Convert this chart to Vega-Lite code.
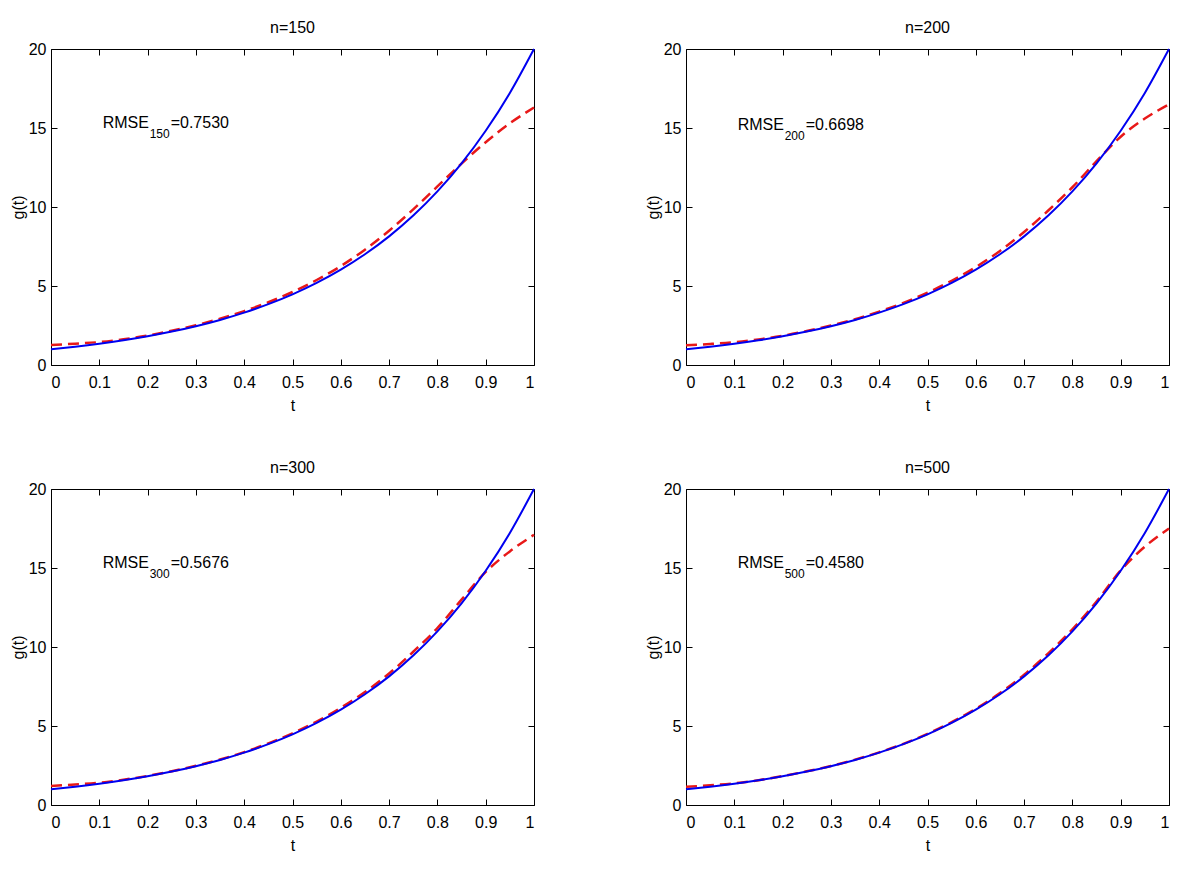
{
  "$schema": "https://vega.github.io/schema/vega-lite/v6.json",
  "background": "white",
  "autosize": {"type": "pad"},
  "padding": {"left": 9, "top": 19, "right": 0, "bottom": 0},
  "config": {
    "font": "Liberation Sans",
    "view": {"stroke": "black", "strokeWidth": 1},
    "axis": {
      "labelFont": "Liberation Sans", "titleFont": "Liberation Sans",
      "labelFontSize": 16, "titleFontSize": 16, "titleFontWeight": "normal",
      "labelColor": "black", "titleColor": "black", "tickColor": "black",
      "tickSize": -6, "tickWidth": 1, "domain": false, "grid": false
    },
    "axisBottom": {"labelPadding": 15, "titlePadding": 7},
    "axisLeft": {"labelPadding": 11, "titlePadding": 2},
    "title": {"font": "Liberation Sans", "fontSize": 16, "fontWeight": "normal", "color": "black", "baseline": "alphabetic", "offset": 5}
  },
  "datasets": {
    "truth": [
      {"t": 0, "g": 1}, {"t": 0.05, "g": 1.1616}, {"t": 0.1, "g": 1.3493}, {"t": 0.15, "g": 1.5673},
      {"t": 0.2, "g": 1.8206}, {"t": 0.25, "g": 2.1147}, {"t": 0.3, "g": 2.4564}, {"t": 0.35, "g": 2.8534},
      {"t": 0.4, "g": 3.3144}, {"t": 0.45, "g": 3.85}, {"t": 0.5, "g": 4.4721}, {"t": 0.55, "g": 5.1948},
      {"t": 0.6, "g": 6.0342}, {"t": 0.65, "g": 7.0092}, {"t": 0.7, "g": 8.1418}, {"t": 0.75, "g": 9.4574},
      {"t": 0.8, "g": 10.9856}, {"t": 0.85, "g": 12.7607}, {"t": 0.9, "g": 14.8227}, {"t": 0.95, "g": 17.2177},
      {"t": 1, "g": 20}
    ],
    "est": [
      {"n": 150, "t": 0, "g": 1.26}, {"n": 150, "t": 0.05, "g": 1.35}, {"n": 150, "t": 0.1, "g": 1.45}, {"n": 150, "t": 0.15, "g": 1.63},
      {"n": 150, "t": 0.2, "g": 1.86}, {"n": 150, "t": 0.25, "g": 2.17}, {"n": 150, "t": 0.3, "g": 2.52}, {"n": 150, "t": 0.35, "g": 2.93},
      {"n": 150, "t": 0.4, "g": 3.41}, {"n": 150, "t": 0.45, "g": 3.97}, {"n": 150, "t": 0.5, "g": 4.62}, {"n": 150, "t": 0.55, "g": 5.38},
      {"n": 150, "t": 0.6, "g": 6.26}, {"n": 150, "t": 0.65, "g": 7.3}, {"n": 150, "t": 0.7, "g": 8.5}, {"n": 150, "t": 0.75, "g": 9.85},
      {"n": 150, "t": 0.8, "g": 11.3}, {"n": 150, "t": 0.85, "g": 12.75}, {"n": 150, "t": 0.9, "g": 14.1}, {"n": 150, "t": 0.95, "g": 15.3},
      {"n": 150, "t": 1, "g": 16.3},
      {"n": 200, "t": 0, "g": 1.25}, {"n": 200, "t": 0.05, "g": 1.33}, {"n": 200, "t": 0.1, "g": 1.44}, {"n": 200, "t": 0.15, "g": 1.62},
      {"n": 200, "t": 0.2, "g": 1.85}, {"n": 200, "t": 0.25, "g": 2.15}, {"n": 200, "t": 0.3, "g": 2.5}, {"n": 200, "t": 0.35, "g": 2.9},
      {"n": 200, "t": 0.4, "g": 3.38}, {"n": 200, "t": 0.45, "g": 3.93}, {"n": 200, "t": 0.5, "g": 4.58}, {"n": 200, "t": 0.55, "g": 5.33},
      {"n": 200, "t": 0.6, "g": 6.2}, {"n": 200, "t": 0.65, "g": 7.22}, {"n": 200, "t": 0.7, "g": 8.42}, {"n": 200, "t": 0.75, "g": 9.78},
      {"n": 200, "t": 0.8, "g": 11.25}, {"n": 200, "t": 0.85, "g": 12.9}, {"n": 200, "t": 0.9, "g": 14.45}, {"n": 200, "t": 0.95, "g": 15.6},
      {"n": 200, "t": 1, "g": 16.5},
      {"n": 300, "t": 0, "g": 1.2}, {"n": 300, "t": 0.05, "g": 1.3}, {"n": 300, "t": 0.1, "g": 1.41}, {"n": 300, "t": 0.15, "g": 1.6},
      {"n": 300, "t": 0.2, "g": 1.84}, {"n": 300, "t": 0.25, "g": 2.14}, {"n": 300, "t": 0.3, "g": 2.48}, {"n": 300, "t": 0.35, "g": 2.88},
      {"n": 300, "t": 0.4, "g": 3.35}, {"n": 300, "t": 0.45, "g": 3.9}, {"n": 300, "t": 0.5, "g": 4.54}, {"n": 300, "t": 0.55, "g": 5.28},
      {"n": 300, "t": 0.6, "g": 6.15}, {"n": 300, "t": 0.65, "g": 7.15}, {"n": 300, "t": 0.7, "g": 8.32}, {"n": 300, "t": 0.75, "g": 9.7},
      {"n": 300, "t": 0.8, "g": 11.2}, {"n": 300, "t": 0.85, "g": 13.0}, {"n": 300, "t": 0.9, "g": 14.75}, {"n": 300, "t": 0.95, "g": 16.05},
      {"n": 300, "t": 1, "g": 17.1},
      {"n": 500, "t": 0, "g": 1.15}, {"n": 500, "t": 0.05, "g": 1.25}, {"n": 500, "t": 0.1, "g": 1.37}, {"n": 500, "t": 0.15, "g": 1.57},
      {"n": 500, "t": 0.2, "g": 1.83}, {"n": 500, "t": 0.25, "g": 2.13}, {"n": 500, "t": 0.3, "g": 2.47}, {"n": 500, "t": 0.35, "g": 2.87},
      {"n": 500, "t": 0.4, "g": 3.33}, {"n": 500, "t": 0.45, "g": 3.87}, {"n": 500, "t": 0.5, "g": 4.5}, {"n": 500, "t": 0.55, "g": 5.24},
      {"n": 500, "t": 0.6, "g": 6.09}, {"n": 500, "t": 0.65, "g": 7.08}, {"n": 500, "t": 0.7, "g": 8.24}, {"n": 500, "t": 0.75, "g": 9.6},
      {"n": 500, "t": 0.8, "g": 11.12}, {"n": 500, "t": 0.85, "g": 12.88}, {"n": 500, "t": 0.9, "g": 14.85}, {"n": 500, "t": 0.95, "g": 16.35},
      {"n": 500, "t": 1, "g": 17.5}
    ],
    "ann": [
      {"n": 150, "t": 0.107, "g": 15.0, "label": "RMSE", "sub": "150", "val": "=0.7530"},
      {"n": 200, "t": 0.107, "g": 14.9, "label": "RMSE", "sub": "200", "val": "=0.6698"},
      {"n": 300, "t": 0.107, "g": 15.0, "label": "RMSE", "sub": "300", "val": "=0.5676"},
      {"n": 500, "t": 0.107, "g": 15.0, "label": "RMSE", "sub": "500", "val": "=0.4580"}
    ]
  },
  "columns": 2,
  "bounds": "flush",
  "spacing": {"row": 124, "column": 152},
  "concat": [
    {
      "width": 483, "height": 316,
      "title": "n=150",
      "layer": [
        {"data": {"name": "est"}, "transform": [{"filter": "datum.n == 150"}],
         "mark": {"type": "line", "color": "#e81818", "strokeWidth": 2.5, "strokeDash": [11, 6], "interpolate": "monotone"},
         "encoding": {
           "x": {"field": "t", "type": "quantitative", "scale": {"domain": [0, 1], "nice": false}, "axis": {"orient": "bottom", "title": "t", "values": [0, 0.1, 0.2, 0.3, 0.4, 0.5, 0.6, 0.7, 0.8, 0.9, 1], "format": "~g"}},
           "y": {"field": "g", "type": "quantitative", "scale": {"domain": [0, 20], "nice": false}, "axis": {"orient": "left", "title": "g(t)", "values": [0, 5, 10, 15, 20]}}
         }},
        {"data": {"name": "truth"},
         "mark": {"type": "line", "color": "#0000f0", "strokeWidth": 2, "interpolate": "monotone"},
         "encoding": {
           "x": {"field": "t", "type": "quantitative", "axis": {"orient": "top", "title": null, "labels": false, "values": [0, 0.1, 0.2, 0.3, 0.4, 0.5, 0.6, 0.7, 0.8, 0.9, 1]}},
           "y": {"field": "g", "type": "quantitative", "axis": {"orient": "right", "title": null, "labels": false, "values": [0, 5, 10, 15, 20]}}
         }},
        {"data": {"name": "ann"}, "transform": [{"filter": "datum.n == 150"}],
         "mark": {"type": "text", "align": "left", "baseline": "alphabetic", "fontSize": 16, "color": "black"},
         "encoding": {"x": {"field": "t", "type": "quantitative", "axis": null}, "y": {"field": "g", "type": "quantitative", "axis": null}, "text": {"field": "label"}}},
        {"data": {"name": "ann"}, "transform": [{"filter": "datum.n == 150"}],
         "mark": {"type": "text", "align": "left", "baseline": "alphabetic", "fontSize": 12, "dx": 47, "dy": 10, "color": "black"},
         "encoding": {"x": {"field": "t", "type": "quantitative", "axis": null}, "y": {"field": "g", "type": "quantitative", "axis": null}, "text": {"field": "sub"}}},
        {"data": {"name": "ann"}, "transform": [{"filter": "datum.n == 150"}],
         "mark": {"type": "text", "align": "left", "baseline": "alphabetic", "fontSize": 16, "dx": 68, "color": "black"},
         "encoding": {"x": {"field": "t", "type": "quantitative", "axis": null}, "y": {"field": "g", "type": "quantitative", "axis": null}, "text": {"field": "val"}}}
      ],
      "resolve": {"axis": {"x": "independent", "y": "independent"}}
    },
    {
      "width": 483, "height": 316,
      "title": "n=200",
      "layer": [
        {"data": {"name": "est"}, "transform": [{"filter": "datum.n == 200"}],
         "mark": {"type": "line", "color": "#e81818", "strokeWidth": 2.5, "strokeDash": [11, 6], "interpolate": "monotone"},
         "encoding": {
           "x": {"field": "t", "type": "quantitative", "scale": {"domain": [0, 1], "nice": false}, "axis": {"orient": "bottom", "title": "t", "values": [0, 0.1, 0.2, 0.3, 0.4, 0.5, 0.6, 0.7, 0.8, 0.9, 1], "format": "~g"}},
           "y": {"field": "g", "type": "quantitative", "scale": {"domain": [0, 20], "nice": false}, "axis": {"orient": "left", "title": "g(t)", "values": [0, 5, 10, 15, 20]}}
         }},
        {"data": {"name": "truth"},
         "mark": {"type": "line", "color": "#0000f0", "strokeWidth": 2, "interpolate": "monotone"},
         "encoding": {
           "x": {"field": "t", "type": "quantitative", "axis": {"orient": "top", "title": null, "labels": false, "values": [0, 0.1, 0.2, 0.3, 0.4, 0.5, 0.6, 0.7, 0.8, 0.9, 1]}},
           "y": {"field": "g", "type": "quantitative", "axis": {"orient": "right", "title": null, "labels": false, "values": [0, 5, 10, 15, 20]}}
         }},
        {"data": {"name": "ann"}, "transform": [{"filter": "datum.n == 200"}],
         "mark": {"type": "text", "align": "left", "baseline": "alphabetic", "fontSize": 16, "color": "black"},
         "encoding": {"x": {"field": "t", "type": "quantitative", "axis": null}, "y": {"field": "g", "type": "quantitative", "axis": null}, "text": {"field": "label"}}},
        {"data": {"name": "ann"}, "transform": [{"filter": "datum.n == 200"}],
         "mark": {"type": "text", "align": "left", "baseline": "alphabetic", "fontSize": 12, "dx": 47, "dy": 10, "color": "black"},
         "encoding": {"x": {"field": "t", "type": "quantitative", "axis": null}, "y": {"field": "g", "type": "quantitative", "axis": null}, "text": {"field": "sub"}}},
        {"data": {"name": "ann"}, "transform": [{"filter": "datum.n == 200"}],
         "mark": {"type": "text", "align": "left", "baseline": "alphabetic", "fontSize": 16, "dx": 68, "color": "black"},
         "encoding": {"x": {"field": "t", "type": "quantitative", "axis": null}, "y": {"field": "g", "type": "quantitative", "axis": null}, "text": {"field": "val"}}}
      ],
      "resolve": {"axis": {"x": "independent", "y": "independent"}}
    },
    {
      "width": 483, "height": 316,
      "title": "n=300",
      "layer": [
        {"data": {"name": "est"}, "transform": [{"filter": "datum.n == 300"}],
         "mark": {"type": "line", "color": "#e81818", "strokeWidth": 2.5, "strokeDash": [11, 6], "interpolate": "monotone"},
         "encoding": {
           "x": {"field": "t", "type": "quantitative", "scale": {"domain": [0, 1], "nice": false}, "axis": {"orient": "bottom", "title": "t", "values": [0, 0.1, 0.2, 0.3, 0.4, 0.5, 0.6, 0.7, 0.8, 0.9, 1], "format": "~g"}},
           "y": {"field": "g", "type": "quantitative", "scale": {"domain": [0, 20], "nice": false}, "axis": {"orient": "left", "title": "g(t)", "values": [0, 5, 10, 15, 20]}}
         }},
        {"data": {"name": "truth"},
         "mark": {"type": "line", "color": "#0000f0", "strokeWidth": 2, "interpolate": "monotone"},
         "encoding": {
           "x": {"field": "t", "type": "quantitative", "axis": {"orient": "top", "title": null, "labels": false, "values": [0, 0.1, 0.2, 0.3, 0.4, 0.5, 0.6, 0.7, 0.8, 0.9, 1]}},
           "y": {"field": "g", "type": "quantitative", "axis": {"orient": "right", "title": null, "labels": false, "values": [0, 5, 10, 15, 20]}}
         }},
        {"data": {"name": "ann"}, "transform": [{"filter": "datum.n == 300"}],
         "mark": {"type": "text", "align": "left", "baseline": "alphabetic", "fontSize": 16, "color": "black"},
         "encoding": {"x": {"field": "t", "type": "quantitative", "axis": null}, "y": {"field": "g", "type": "quantitative", "axis": null}, "text": {"field": "label"}}},
        {"data": {"name": "ann"}, "transform": [{"filter": "datum.n == 300"}],
         "mark": {"type": "text", "align": "left", "baseline": "alphabetic", "fontSize": 12, "dx": 47, "dy": 10, "color": "black"},
         "encoding": {"x": {"field": "t", "type": "quantitative", "axis": null}, "y": {"field": "g", "type": "quantitative", "axis": null}, "text": {"field": "sub"}}},
        {"data": {"name": "ann"}, "transform": [{"filter": "datum.n == 300"}],
         "mark": {"type": "text", "align": "left", "baseline": "alphabetic", "fontSize": 16, "dx": 68, "color": "black"},
         "encoding": {"x": {"field": "t", "type": "quantitative", "axis": null}, "y": {"field": "g", "type": "quantitative", "axis": null}, "text": {"field": "val"}}}
      ],
      "resolve": {"axis": {"x": "independent", "y": "independent"}}
    },
    {
      "width": 483, "height": 316,
      "title": "n=500",
      "layer": [
        {"data": {"name": "est"}, "transform": [{"filter": "datum.n == 500"}],
         "mark": {"type": "line", "color": "#e81818", "strokeWidth": 2.5, "strokeDash": [11, 6], "interpolate": "monotone"},
         "encoding": {
           "x": {"field": "t", "type": "quantitative", "scale": {"domain": [0, 1], "nice": false}, "axis": {"orient": "bottom", "title": "t", "values": [0, 0.1, 0.2, 0.3, 0.4, 0.5, 0.6, 0.7, 0.8, 0.9, 1], "format": "~g"}},
           "y": {"field": "g", "type": "quantitative", "scale": {"domain": [0, 20], "nice": false}, "axis": {"orient": "left", "title": "g(t)", "values": [0, 5, 10, 15, 20]}}
         }},
        {"data": {"name": "truth"},
         "mark": {"type": "line", "color": "#0000f0", "strokeWidth": 2, "interpolate": "monotone"},
         "encoding": {
           "x": {"field": "t", "type": "quantitative", "axis": {"orient": "top", "title": null, "labels": false, "values": [0, 0.1, 0.2, 0.3, 0.4, 0.5, 0.6, 0.7, 0.8, 0.9, 1]}},
           "y": {"field": "g", "type": "quantitative", "axis": {"orient": "right", "title": null, "labels": false, "values": [0, 5, 10, 15, 20]}}
         }},
        {"data": {"name": "ann"}, "transform": [{"filter": "datum.n == 500"}],
         "mark": {"type": "text", "align": "left", "baseline": "alphabetic", "fontSize": 16, "color": "black"},
         "encoding": {"x": {"field": "t", "type": "quantitative", "axis": null}, "y": {"field": "g", "type": "quantitative", "axis": null}, "text": {"field": "label"}}},
        {"data": {"name": "ann"}, "transform": [{"filter": "datum.n == 500"}],
         "mark": {"type": "text", "align": "left", "baseline": "alphabetic", "fontSize": 12, "dx": 47, "dy": 10, "color": "black"},
         "encoding": {"x": {"field": "t", "type": "quantitative", "axis": null}, "y": {"field": "g", "type": "quantitative", "axis": null}, "text": {"field": "sub"}}},
        {"data": {"name": "ann"}, "transform": [{"filter": "datum.n == 500"}],
         "mark": {"type": "text", "align": "left", "baseline": "alphabetic", "fontSize": 16, "dx": 68, "color": "black"},
         "encoding": {"x": {"field": "t", "type": "quantitative", "axis": null}, "y": {"field": "g", "type": "quantitative", "axis": null}, "text": {"field": "val"}}}
      ],
      "resolve": {"axis": {"x": "independent", "y": "independent"}}
    }
  ]
}
